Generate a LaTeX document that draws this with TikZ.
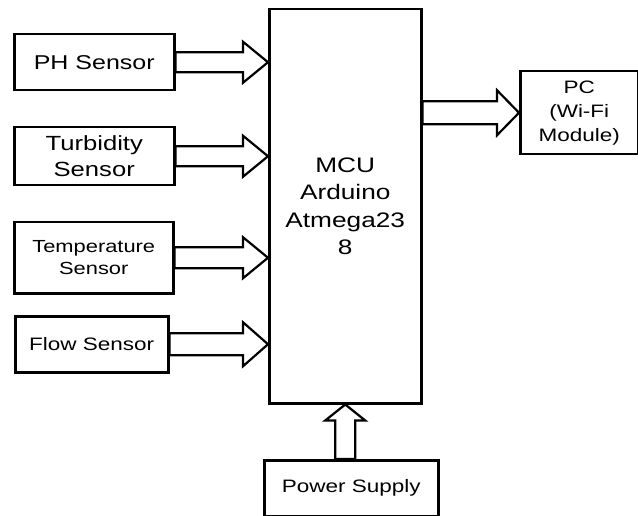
\documentclass[tikz,border=0pt]{standalone}
\usepackage{fontspec}
\setmainfont{Liberation Sans}[FakeStretch=1.25]
\usetikzlibrary{calc}
\newcommand\hblockarrow[5]{%
  \draw[barrow] let \p1=(#1), \p2=(#2) in
    (\x1,\y1+#3) -- (\x2-#5,\y1+#3) -- (\x2-#5,\y1+#4) -- (\x2,\y1)
    -- (\x2-#5,\y1-#4) -- (\x2-#5,\y1-#3) -- (\x1,\y1-#3) -- cycle;}
\begin{document}
\begin{tikzpicture}[x=1pt,y=-1pt,
  box/.style={draw,line width=2.5pt,rectangle,anchor=north west,inner sep=0pt,align=center},
  barrow/.style={draw,line width=2.2pt,fill=white,line join=miter}]
\useasboundingbox[fill=white] (0,0) rectangle (638,516);
\node[box,minimum width=160pt,minimum height=56pt,font=\fontsize{20}{24}\selectfont] (ph) at (13,33) {PH Sensor};
\node[box,minimum width=160pt,minimum height=58pt,font=\fontsize{20.5}{26}\selectfont] (tu) at (13,126) {Turbidity\\Sensor};
\node[box,minimum width=159pt,minimum height=71pt,font=\fontsize{17.5}{22}\selectfont] (te) at (13,221) {Temperature\\Sensor};
\node[box,minimum width=153pt,minimum height=56pt,font=\fontsize{18}{22}\selectfont] (fl) at (14,315) {Flow Sensor};
\node[box,minimum width=152pt,minimum height=394pt,font=\fontsize{21}{27.5}\selectfont] (mcu) at (268,8) {MCU\\Arduino\\Atmega23\\8};
\node[box,minimum width=118pt,minimum height=83pt,font=\fontsize{18}{24}\selectfont] (pc) at (519,70) {PC\\(Wi-Fi\\Module)};
\node[box,minimum width=174pt,minimum height=56pt,font=\fontsize{18}{22}\selectfont] (ps) at (263,459) {Power Supply};
\hblockarrow{ph.east}{mcu.west}{10pt}{20.5pt}{25pt}
\hblockarrow{tu.east}{mcu.west}{10pt}{20.5pt}{25pt}
\hblockarrow{te.east}{mcu.west}{10.5pt}{20.5pt}{25pt}
\hblockarrow{fl.east}{mcu.west}{11pt}{22pt}{25pt}
\hblockarrow{mcu.east |- pc.west}{pc.west}{11.5pt}{22.5pt}{22pt}
\draw[barrow] let \p1=(mcu.south), \p2=(ps.north) in
  (\x1-10pt,\y2) -- (\x1-10pt,\y1-16pt) -- (\x1-20pt,\y1-16pt) -- (\x1,\y1)
  -- (\x1+20pt,\y1-16pt) -- (\x1+10pt,\y1-16pt) -- (\x1+10pt,\y2) -- cycle;
\end{tikzpicture}
\end{document}
